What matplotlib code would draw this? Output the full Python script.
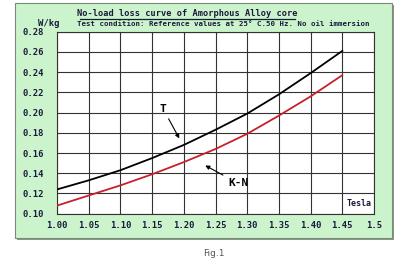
import numpy as np
import matplotlib.pyplot as plt
from matplotlib.patches import Rectangle

# data
tesla = [1.00, 1.05, 1.10, 1.15, 1.20, 1.25, 1.30, 1.35, 1.40, 1.45]
loss_t = [0.124, 0.133, 0.143, 0.155, 0.168, 0.183, 0.199, 0.218, 0.239, 0.261]
loss_kn = [0.108, 0.118, 0.128, 0.139, 0.151, 0.164, 0.179, 0.197, 0.216, 0.237]
xticks = [1.00, 1.05, 1.10, 1.15, 1.20, 1.25, 1.30, 1.35, 1.40, 1.45, 1.50]
xlabels = ['1.00', '1.05', '1.10', '1.15', '1.20', '1.25', '1.30', '1.35', '1.40', '1.45', '1.5']
yticks = [0.10, 0.12, 0.14, 0.16, 0.18, 0.20, 0.22, 0.24, 0.26, 0.28]

mono = 'DejaVu Sans Mono'
navy = '#1a1a3a'

fig = plt.figure(figsize=(4, 2.71), dpi=100)
fig.patch.set_facecolor('white')

# background axes holding the green panel with shadow
bg = fig.add_axes([0, 0, 1, 1], zorder=0)
bg.add_patch(Rectangle((17, 5), 377, 235, facecolor='#8a9a8a', edgecolor='none'))
bg.add_patch(Rectangle((15, 3), 377, 235, facecolor='#ccf4cc',
                       edgecolor='#7a8a7a', lw=0.8))
# title underline
bg.plot([80, 295], [18.5, 18.5], color=navy, lw=0.9)
bg.set_xlim(0, 400)
bg.set_ylim(271, 0)
bg.axis('off')

ax = fig.add_axes([57/400, 1 - 213.7/271, 317/400, 182/271], zorder=1)
ax.set_facecolor('white')
ax.plot(tesla, loss_t, color='black', lw=1.3, zorder=3)
ax.plot(tesla, loss_kn, color='#c8202a', lw=1.3, zorder=3)

ax.set_xlim(1.0, 1.5)
ax.set_ylim(0.10, 0.28)
ax.set_xticks(xticks)
ax.set_xticklabels(xlabels)
ax.set_yticks(yticks)
ax.set_yticklabels(['%.2f' % v for v in yticks])
ax.grid(True, color='#333333', lw=0.8)
ax.tick_params(length=0, labelsize=6.4, labelcolor=navy)
ax.tick_params(axis='x', pad=5.5)
ax.tick_params(axis='y', pad=9)
for lab in ax.get_xticklabels() + ax.get_yticklabels():
    lab.set_family(mono)
    lab.set_weight('bold')
for s in ax.spines.values():
    s.set_color('#333333')
    s.set_linewidth(0.8)

ax.annotate('T', xy=(1.195, 0.172), xytext=(1.162, 0.201),
            fontsize=8, family=mono, fontweight='bold',
            arrowprops=dict(arrowstyle='-|>', color='black', lw=0.8,
                            mutation_scale=6))
ax.annotate('K-N', xy=(1.23, 0.149), xytext=(1.27, 0.127),
            fontsize=8, family=mono, fontweight='bold',
            arrowprops=dict(arrowstyle='-|>', color='black', lw=0.8,
                            mutation_scale=6))
ax.text(1.496, 0.1105, 'Tesla', fontsize=6, family=mono, fontweight='bold',
        color=navy, ha='right', va='center')

fig.text(187.5/400, 1 - 13/271, 'No-load loss curve of Amorphous Alloy core',
         fontsize=6.2, family=mono, fontweight='bold', color=navy,
         ha='center', va='center', zorder=2)
fig.text(223/400, 1 - 23.5/271,
         'Test condition: Reference values at 25\u00b0 C.50 Hz. No oil immersion',
         fontsize=5.35, family=mono, fontweight='bold', color=navy,
         ha='center', va='center', zorder=2)
fig.text(49/400, 1 - 23/271, 'W/kg', fontsize=6.5, family=mono,
         fontweight='bold', color=navy, ha='center', va='center', zorder=2)
fig.text(214/400, 1 - 253/271, 'Fig.1', fontsize=6.5, color='#555555',
         ha='center', va='center', zorder=2)

fig.savefig('out.png', dpi=100)
